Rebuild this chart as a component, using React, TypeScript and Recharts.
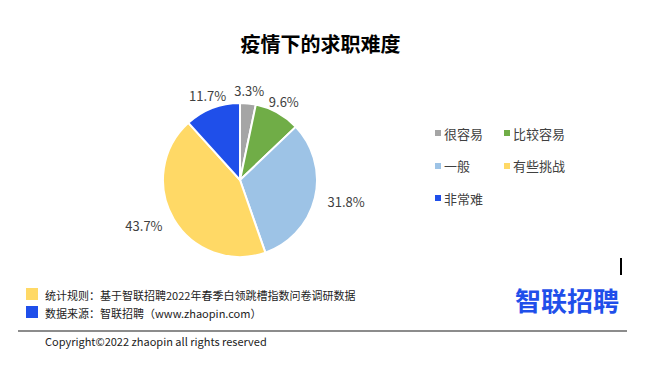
import React from 'react';
import { PieChart, Pie, Cell, Legend } from 'recharts';

const categories = ['很容易', '比较容易', '一般', '有些挑战', '非常难'];
const shares = [3.3, 9.6, 31.8, 43.7, 11.7];
const colors = ['#A5A5A5', '#70AD47', '#9DC3E6', '#FFD966', '#1F4FEA'];
const titleText = '疫情下的求职难度';
const noteRule = '统计规则：基于智联招聘2022年春季白领跳槽指数问卷调研数据';
const noteSource = '数据来源：智联招聘（www.zhaopin.com）';
const copyrightText = 'Copyright©2022 zhaopin all rights reserved';
const logoText = '智联招聘';

const data = categories.map((name, i) => ({ name, value: shares[i] }));

const FONT = '"Noto Sans CJK SC", "Noto Sans", sans-serif';
const RADIAN = Math.PI / 180;

const renderLabel = (props: any) => {
  const { cx, cy, midAngle, outerRadius, value } = props;
  const r = outerRadius + 13;
  const cos = Math.cos(-midAngle * RADIAN);
  const sin = Math.sin(-midAngle * RADIAN);
  const x = cx + r * cos;
  const y = cy + r * sin;
  const anchor = Math.abs(cos) < 0.55 ? 'middle' : cos > 0 ? 'start' : 'end';
  return (
    <text
      x={x}
      y={y}
      textAnchor={anchor}
      dominantBaseline="central"
      fill="#404040"
      fontSize={13}
      fontFamily={FONT}
    >
      {`${value}%`}
    </text>
  );
};

const LegendContent = () => (
  <div
    style={{
      display: 'grid',
      gridTemplateColumns: '69px 80px',
      rowGap: 0,
      fontFamily: FONT,
      fontSize: 13,
      color: '#404040',
    }}
  >
    {data.map((d, i) => (
      <div key={d.name} style={{ display: 'flex', alignItems: 'center', height: 32.5 }}>
        <span style={{ width: 6, height: 6, background: colors[i], marginRight: 3, display: 'inline-block' }} />
        <span>{d.name}</span>
      </div>
    ))}
  </div>
);

export default function App() {
  return (
    <div style={{ position: 'fixed', left: 0, top: 0, width: 645, height: 375, background: '#fff', fontFamily: FONT }}>
      <div
        style={{
          position: 'absolute',
          left: 0,
          width: 645,
          top: 30,
          textAlign: 'center',
          fontSize: 20,
          fontWeight: 700,
          color: '#000',
          lineHeight: '28px',
        }}
      >
        <span style={{ position: 'relative', left: -2 }}>{titleText}</span>
      </div>
      <div style={{ position: 'absolute', left: 0, top: 0 }}>
        <PieChart width={645} height={375}>
          <Pie
            data={data}
            dataKey="value"
            nameKey="name"
            cx={235}
            cy={175}
            outerRadius={77}
            startAngle={90}
            endAngle={-270}
            stroke="#fff"
            strokeWidth={2}
            label={renderLabel}
            labelLine={false}
            isAnimationActive={false}
          >
            {data.map((d, i) => (
              <Cell key={d.name} fill={colors[i]} />
            ))}
          </Pie>
          <Legend
            content={<LegendContent />}
            wrapperStyle={{ position: 'absolute', left: 435, top: 117, width: 160 }}
          />
        </PieChart>
      </div>

      <div style={{ position: 'absolute', left: 26, top: 288, width: 12, height: 12, background: '#FFD966' }} />
      <div style={{ position: 'absolute', left: 45, top: 287, fontSize: 11, color: '#222', lineHeight: '16px', whiteSpace: 'nowrap' }}>
        {noteRule}
      </div>
      <div style={{ position: 'absolute', left: 26, top: 306, width: 12, height: 12, background: '#1F4FEA' }} />
      <div style={{ position: 'absolute', left: 45, top: 305, fontSize: 11, color: '#222', lineHeight: '16px', whiteSpace: 'nowrap' }}>
        {noteSource}
      </div>
      <div
        style={{
          position: 'absolute',
          left: 515,
          top: 284,
          fontSize: 26,
          fontWeight: 700,
          color: '#1F4FEA',
          lineHeight: '32px',
          whiteSpace: 'nowrap',
        }}
      >
        {logoText}
      </div>
      <div style={{ position: 'absolute', left: 620, top: 258, width: 2, height: 17, background: '#000' }} />
      <div style={{ position: 'absolute', left: 18, top: 330, width: 609, height: 2, background: '#8c8c8c' }} />
      <div style={{ position: 'absolute', left: 45, top: 333, fontSize: 11, color: '#222', lineHeight: '16px', whiteSpace: 'nowrap' }}>
        {copyrightText}
      </div>
    </div>
  );
}
